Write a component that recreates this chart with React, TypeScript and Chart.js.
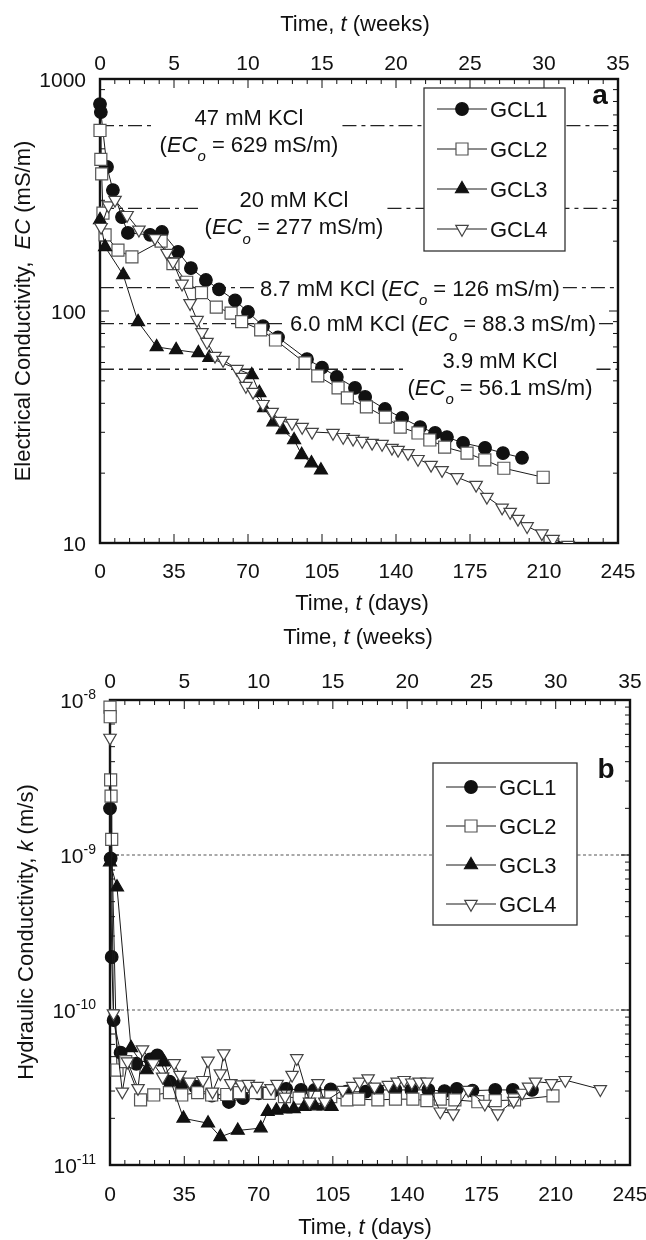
import React, { useEffect, useRef } from 'react';
import { Chart, registerables } from 'chart.js';

Chart.register(...registerables);

const FAMILY = '"Liberation Sans", Arial, Helvetica, sans-serif';
const TICK_FS = 21;
const TEXT_FS = 22;

// ---------------- data : panel a (EC vs days) ----------------
const ecDays1 = [0, 0.4, 3.3, 6.1, 10.4, 13.2, 23.7, 29.3, 36.9, 43, 50.1, 56.3, 63.9, 70, 77.1, 84.2, 97.9, 105, 112, 120.6, 125.4, 134.8, 142.9, 151.4, 158.5, 164.1, 171.7, 182.1, 190.6, 199.6];
const ecGCL1 = [780, 720, 418, 332, 254, 217, 213, 219, 180, 153, 136, 124, 111, 99, 86, 77, 62, 57, 52, 46.6, 42.6, 37.8, 34.6, 31.6, 29.8, 28.6, 27.0, 25.7, 24.4, 23.3];

const ecDays2 = [0, 0.4, 0.8, 1.4, 2.4, 8.5, 15.1, 28.9, 34.5, 41, 48, 55, 62, 67, 76, 83, 97, 103, 112.6, 117, 126, 135, 142, 150.4, 156, 163, 173.6, 182, 191, 209.6];
const ecGCL2 = [600, 450, 390, 264, 213, 183, 171, 200, 160, 133, 120, 104, 98, 90, 83, 75, 59.7, 52.5, 46.6, 42.2, 38.6, 34.9, 31.6, 29.8, 27.8, 25.9, 24.4, 22.8, 21.0, 19.2];

const ecDays3 = [0, 2.4, 11, 18, 26.8, 36, 46.5, 51.7, 71.8, 75.4, 77.6, 82, 86.4, 91.8, 95.4, 100, 104.5];
const ecGCL3 = [247, 189, 143, 89.8, 70, 68, 66, 63, 53, 44.4, 38.2, 33.2, 30.7, 27.8, 24, 22.1, 20.6];

const ecDays4 = [0.5, 4, 7.1, 12.8, 18.4, 26, 31.7, 34.5, 38.8, 42.6, 45.9, 48.2, 50.6, 54.4, 58.2, 64.8, 67.2, 69, 72.4, 77.1, 81.4, 85.1, 90.8, 95.6, 100.3, 110.2, 115, 119.7, 124, 128.7, 133.4, 138.1, 141, 145.7, 150.4, 156.6, 161.8, 168.9, 177.9, 183, 190.2, 194, 197.7, 202, 209, 214.3, 221.4];
const ecGCL4 = [230, 285, 301, 259, 224, 206, 178, 163, 131, 108, 91.4, 81, 73.5, 64, 61.5, 56.2, 52, 47.5, 44.8, 39.7, 36.7, 33.6, 32.9, 31.6, 30.1, 29.8, 28.6, 28.1, 27.5, 27, 26.7, 25.7, 25.2, 24.4, 23, 21.7, 20.6, 19.2, 17.8, 15.8, 14.2, 13.6, 12.7, 11.8, 11.0, 10.4, 9.8];

// ---------------- data : panel b (k vs days) ----------------
const kDays1 = [0, 0.3, 0.8, 1.7, 5, 12.4, 19, 22.3, 28, 33.8, 40, 48, 56, 62.7, 70, 76.7, 83, 90, 96.5, 104, 111.4, 120.5, 126, 134.5, 142, 150, 157.6, 163.4, 170.8, 181.5, 189.8, 198.8];
const kGCL1 = [2.0e-9, 9.5e-10, 2.2e-10, 8.6e-11, 5.3e-11, 4.5e-11, 4.8e-11, 5.1e-11, 3.45e-11, 3.3e-11, 3.2e-11, 2.8e-11, 2.55e-11, 2.7e-11, 2.9e-11, 3.0e-11, 3.1e-11, 3.05e-11, 3.05e-11, 3.07e-11, 2.97e-11, 2.97e-11, 3.05e-11, 3.05e-11, 3.05e-11, 3.05e-11, 3.0e-11, 3.1e-11, 3.02e-11, 3.05e-11, 3.05e-11, 3.05e-11];

const kDays2 = [0, 0.1, 0.3, 0.5, 0.8, 3.3, 7.4, 14.4, 20.6, 28, 33.8, 41.3, 47.9, 55, 61, 68.5, 75, 82.2, 89.1, 96.5, 104, 111.7, 117.2, 126.2, 134.5, 142.7, 149.3, 155.6, 162.5, 173.3, 181.5, 190.6, 208.7];
const kGCL2 = [9.0e-9, 7.8e-9, 3.05e-9, 2.4e-9, 1.26e-9, 4.1e-11, 4.65e-11, 2.63e-11, 2.83e-11, 2.93e-11, 2.83e-11, 2.93e-11, 2.83e-11, 2.85e-11, 2.93e-11, 2.93e-11, 2.9e-11, 2.76e-11, 2.7e-11, 2.73e-11, 2.76e-11, 2.63e-11, 2.66e-11, 2.63e-11, 2.66e-11, 2.66e-11, 2.6e-11, 2.66e-11, 2.63e-11, 2.56e-11, 2.6e-11, 2.63e-11, 2.79e-11];

const kDays3 = [0, 3.3, 9.9, 17.3, 25.6, 34.6, 46.2, 52, 60.2, 71, 74.3, 78.4, 82.5, 86.6, 91.6, 96.5, 100.7, 104.4];
const kGCL3 = [9.0e-10, 6.2e-10, 5.7e-11, 4.1e-11, 4.6e-11, 2.0e-11, 1.86e-11, 1.52e-11, 1.67e-11, 1.73e-11, 2.21e-11, 2.25e-11, 2.29e-11, 2.3e-11, 2.38e-11, 2.4e-11, 2.4e-11, 2.38e-11];

const kDays4 = [0, 1.65, 5.8, 8.25, 13.2, 15.3, 20.3, 24.8, 30.2, 33, 37.5, 43.8, 46.2, 48.3, 52, 53.6, 56.9, 61.9, 65.2, 69.3, 75.9, 78.7, 82.5, 85.8, 88, 94, 98, 101.2, 109.7, 114.4, 117.6, 121.6, 124.6, 131.2, 135.3, 138.6, 142.2, 145.7, 149.3, 155.6, 161.7, 168.8, 176.6, 182.7, 190.2, 194.2, 197.2, 200.5, 208, 214.5, 231];
const kGCL4 = [5.7e-9, 9.5e-11, 2.97e-11, 4.65e-11, 3.13e-11, 5.57e-11, 4.53e-11, 3.71e-11, 4.53e-11, 3.81e-11, 3.45e-11, 3.53e-11, 4.71e-11, 2.97e-11, 3.9e-11, 5.25e-11, 3.37e-11, 3.31e-11, 3.33e-11, 3.23e-11, 3.13e-11, 3.33e-11, 2.76e-11, 3.81e-11, 4.88e-11, 2.56e-11, 3.37e-11, 2.56e-11, 3.05e-11, 3.23e-11, 3.45e-11, 3.62e-11, 3.2e-11, 3.28e-11, 3.45e-11, 3.53e-11, 3.4e-11, 3.45e-11, 3.45e-11, 2.21e-11, 2.15e-11, 3.05e-11, 2.48e-11, 2.15e-11, 2.59e-11, 2.92e-11, 3.2e-11, 3.45e-11, 3.37e-11, 3.53e-11, 3.08e-11];

// ---------------- ticks, labels, reference values ----------------
const seriesNames = ['GCL1', 'GCL2', 'GCL3', 'GCL4'];
const dayTicks = [0, 35, 70, 105, 140, 175, 210, 245];
const dayMinorStep = 7;
const weekTicks = [0, 5, 10, 15, 20, 25, 30, 35];
const weekMinorStep = 1;
const ecTicks = [10, 100, 1000];
const kTickExps = [-11, -10, -9, -8];
const ecRefValues = [629, 277, 126, 88.3, 56.1];
const ecRefConc = ['47', '20', '8.7', '6.0', '3.9'];
const ecRefText = ['629', '277', '126', '88.3', '56.1'];
const kRefLines = [1e-9, 1e-10];

// ---------------- styles ----------------
const STYLES = [
  { pointStyle: 'circle', radius: 6.3, rotation: 0, fill: '#111', stroke: '#111' },
  { pointStyle: 'rect', radius: 8.5, rotation: 0, fill: '#fff', stroke: '#555' },
  { pointStyle: 'triangle', radius: 7.5, rotation: 0, fill: '#111', stroke: '#111' },
  { pointStyle: 'triangle', radius: 7.2, rotation: 180, fill: '#fff', stroke: '#444' },
];

// layout of the reference-line labels in panel a (two-line or one-line)
const REF_LAYOUT = [
  { kind: 2, cx: 249 },
  { kind: 2, cx: 294 },
  { kind: 1, x0: 260 },
  { kind: 1, x0: 290 },
  { kind: 2, cx: 500, tailOnly: true },
];

type Part = { t: string; it?: boolean; sub?: boolean; sup?: boolean; bold?: boolean };

function partFont(p: Part, size: number) {
  const s = p.sub || p.sup ? Math.round(size * 0.68) : size;
  return `${p.it ? 'italic ' : ''}${p.bold ? 'bold ' : ''}${s}px ${FAMILY}`;
}
function measureRich(ctx: CanvasRenderingContext2D, parts: Part[], size: number) {
  let w = 0;
  for (const p of parts) {
    ctx.font = partFont(p, size);
    w += ctx.measureText(p.t).width;
  }
  return w;
}
function drawRich(ctx: CanvasRenderingContext2D, parts: Part[], x: number, baseline: number, size: number, align: 'left' | 'center' | 'right') {
  const w = measureRich(ctx, parts, size);
  let cx = align === 'center' ? x - w / 2 : align === 'right' ? x - w : x;
  const x0 = cx;
  ctx.textAlign = 'left';
  ctx.textBaseline = 'alphabetic';
  for (const p of parts) {
    ctx.font = partFont(p, size);
    const dy = p.sub ? size * 0.42 : p.sup ? -size * 0.42 : 0;
    ctx.fillText(p.t, cx, baseline + dy);
    cx += ctx.measureText(p.t).width;
  }
  return [x0, x0 + w];
}

function drawMarker(ctx: CanvasRenderingContext2D, i: number, x: number, y: number) {
  const s = STYLES[i];
  ctx.save();
  ctx.fillStyle = s.fill;
  ctx.strokeStyle = s.stroke;
  ctx.lineWidth = 1.2;
  ctx.beginPath();
  if (s.pointStyle === 'circle') {
    ctx.arc(x, y, s.radius, 0, Math.PI * 2);
  } else if (s.pointStyle === 'rect') {
    const h = s.radius * Math.SQRT1_2;
    ctx.rect(x - h, y - h, 2 * h, 2 * h);
  } else {
    const r = s.radius;
    const sg = s.rotation === 180 ? -1 : 1;
    ctx.moveTo(x, y - sg * r);
    ctx.lineTo(x + 0.866 * r, y + sg * 0.5 * r);
    ctx.lineTo(x - 0.866 * r, y + sg * 0.5 * r);
    ctx.closePath();
  }
  ctx.fill();
  ctx.stroke();
  ctx.restore();
}

function drawLegend(ctx: CanvasRenderingContext2D, bx: number, by: number, bw: number, bh: number, row0: number, rowStep: number) {
  ctx.save();
  ctx.fillStyle = '#fff';
  ctx.fillRect(bx, by, bw, bh);
  ctx.strokeStyle = '#333';
  ctx.lineWidth = 1.3;
  ctx.strokeRect(bx, by, bw, bh);
  seriesNames.forEach((name, i) => {
    const ry = row0 + rowStep * i;
    ctx.strokeStyle = '#1a1a1a';
    ctx.lineWidth = 1;
    ctx.beginPath();
    ctx.moveTo(bx + 13, ry);
    ctx.lineTo(bx + 63, ry);
    ctx.stroke();
    drawMarker(ctx, i, bx + 38, ry);
    ctx.fillStyle = '#111';
    drawRich(ctx, [{ t: name }], bx + 66, ry + 8, TEXT_FS, 'left');
  });
  ctx.restore();
}

function drawTicksAndFrame(chart: any, yMajor: number[], yMinor: number[]) {
  const { ctx, chartArea: ca, scales } = chart;
  const xS = scales.x, x2S = scales.x2, yS = scales.y;
  ctx.save();
  ctx.strokeStyle = '#111';
  ctx.lineWidth = 1;
  const seg = (a: number, b: number, c: number, d: number) => {
    ctx.beginPath();
    ctx.moveTo(a, b);
    ctx.lineTo(c, d);
    ctx.stroke();
  };
  for (let d = 0; d <= xS.max; d += dayMinorStep) {
    const px = xS.getPixelForValue(d);
    const L = dayTicks.includes(d) ? 9 : 5;
    seg(px, ca.bottom, px, ca.bottom - L);
  }
  for (let w = 0; w <= x2S.max; w += weekMinorStep) {
    const px = x2S.getPixelForValue(w);
    const L = weekTicks.includes(w) ? 9 : 5;
    seg(px, ca.top, px, ca.top + L);
  }
  yMajor.forEach((v) => {
    const py = yS.getPixelForValue(v);
    seg(ca.left, py, ca.left + 9, py);
    seg(ca.right, py, ca.right - 9, py);
  });
  yMinor.forEach((v) => {
    const py = yS.getPixelForValue(v);
    seg(ca.left, py, ca.left + 5, py);
    seg(ca.right, py, ca.right - 5, py);
  });
  ctx.lineWidth = 2.4;
  ctx.strokeRect(ca.left, ca.top, ca.right - ca.left, ca.bottom - ca.top);
  ctx.restore();
}

function drawXLabels(chart: any, topBase: number, botBase: number, topTitleX: number, topTitleBase: number, botTitleX: number, botTitleBase: number) {
  const { ctx, scales } = chart;
  ctx.save();
  ctx.fillStyle = '#111';
  dayTicks.forEach((d) => drawRich(ctx, [{ t: String(d) }], scales.x.getPixelForValue(d), botBase, TICK_FS, 'center'));
  weekTicks.forEach((w) => drawRich(ctx, [{ t: String(w) }], scales.x2.getPixelForValue(w), topBase, TICK_FS, 'center'));
  drawRich(ctx, [{ t: 'Time, ' }, { t: 't', it: true }, { t: ' (weeks)' }], topTitleX, topTitleBase, TEXT_FS, 'center');
  drawRich(ctx, [{ t: 'Time, ' }, { t: 't', it: true }, { t: ' (days)' }], botTitleX, botTitleBase, TEXT_FS, 'center');
  ctx.restore();
}

function drawYTitle(ctx: CanvasRenderingContext2D, parts: Part[], x: number, cy: number) {
  ctx.save();
  ctx.translate(x, cy);
  ctx.rotate(-Math.PI / 2);
  ctx.fillStyle = '#111';
  drawRich(ctx, parts, 0, 0, TEXT_FS, 'center');
  ctx.restore();
}

function logMinors(lo: number, hi: number) {
  const out: number[] = [];
  for (let e = Math.round(Math.log10(lo)); e < Math.round(Math.log10(hi)); e++) {
    for (let m = 2; m <= 9; m++) out.push(m * Math.pow(10, e));
  }
  return out;
}

function makeDatasets(xs: number[][], ys: number[][]) {
  return xs.map((xArr, i) => ({
    label: seriesNames[i],
    data: xArr.map((d, j) => ({ x: d, y: ys[i][j] })),
    borderColor: '#1a1a1a',
    borderWidth: 1,
    pointStyle: STYLES[i].pointStyle,
    pointRadius: STYLES[i].radius,
    pointRotation: STYLES[i].rotation,
    pointBackgroundColor: STYLES[i].fill,
    pointBorderColor: STYLES[i].stroke,
    pointBorderWidth: 1.2,
    showLine: true,
    fill: false,
    tension: 0,
    order: 4 - i,
    clip: { left: 14, top: 14, right: 14, bottom: 0 },
  }));
}

const ecConcParts = (i: number): Part[] => [{ t: `${ecRefConc[i]} mM KCl` }];
const ecValParts = (i: number): Part[] => [
  { t: '(' },
  { t: 'EC', it: true },
  { t: 'o', it: true, sub: true },
  { t: ` = ${ecRefText[i]} mS/m)` },
];

const panelAPlugin = {
  id: 'panelA',
  beforeDatasetsDraw(chart: any) {
    const { ctx, chartArea: ca, scales } = chart;
    ctx.save();
    ecRefValues.forEach((v, i) => {
      const py = scales.y.getPixelForValue(v);
      const lay = REF_LAYOUT[i];
      ctx.fillStyle = '#111';
      let g0: number, g1: number;
      if (lay.kind === 2) {
        const a = drawRich(ctx, ecConcParts(i), lay.cx as number, py - 1, TEXT_FS, 'center');
        const b = drawRich(ctx, ecValParts(i), lay.cx as number, py + 26, TEXT_FS, 'center');
        g0 = Math.min(a[0], b[0]) - 4;
        g1 = Math.max(a[1], b[1]) + 4;
      } else {
        const parts = [...ecConcParts(i), { t: ' ' }, ...ecValParts(i)];
        const a = drawRich(ctx, parts, lay.x0 as number, py + 7.9, TEXT_FS, 'left');
        g0 = a[0] - 3;
        g1 = a[1] + 3;
      }
      ctx.strokeStyle = '#222';
      ctx.lineWidth = 1.3;
      ctx.setLineDash([14, 5, 4, 5]);
      ctx.beginPath();
      ctx.moveTo(ca.left, py);
      ctx.lineTo(g0, py);
      if (g1 < ca.right) {
        ctx.moveTo(g1, py);
        ctx.lineTo(ca.right, py);
      }
      ctx.stroke();
      ctx.setLineDash([]);
    });
    ctx.restore();
    drawTicksAndFrame(chart, ecTicks, logMinors(10, 1000));
  },
  afterDatasetsDraw(chart: any) {
    const { ctx, chartArea: ca, scales } = chart;
    drawLegend(ctx, 424, 88, 141, 163, 109, 40);
    ctx.save();
    ctx.fillStyle = '#111';
    drawRich(ctx, [{ t: 'a', bold: true }], 600, 104, 28, 'center');
    ecTicks.forEach((v) => drawRich(ctx, [{ t: String(v) }], ca.left - 14, scales.y.getPixelForValue(v) + 7.5, TICK_FS, 'right'));
    ctx.restore();
    drawXLabels(chart, 69.5, 577.5, 355, 31, 362, 610);
    drawYTitle(ctx, [{ t: 'Electrical Conductivity,  ' }, { t: 'EC', it: true }, { t: ' (mS/m)' }], 30, 311);
  },
};

const panelBPlugin = {
  id: 'panelB',
  beforeDatasetsDraw(chart: any) {
    const { ctx, chartArea: ca, scales } = chart;
    ctx.save();
    ctx.strokeStyle = '#555';
    ctx.lineWidth = 1.2;
    ctx.setLineDash([3, 2.5]);
    kRefLines.forEach((v) => {
      const py = scales.y.getPixelForValue(v);
      ctx.beginPath();
      ctx.moveTo(ca.left, py);
      ctx.lineTo(ca.right, py);
      ctx.stroke();
    });
    ctx.setLineDash([]);
    ctx.restore();
    drawTicksAndFrame(chart, kTickExps.map((e) => Math.pow(10, e)), logMinors(1e-11, 1e-8));
  },
  afterDatasetsDraw(chart: any) {
    const { ctx, chartArea: ca, scales } = chart;
    drawLegend(ctx, 433, 143, 144, 162, 167, 39);
    ctx.save();
    ctx.fillStyle = '#111';
    drawRich(ctx, [{ t: 'b', bold: true }], 606, 158, 28, 'center');
    kTickExps.forEach((e) =>
      drawRich(ctx, [{ t: '10' }, { t: String(e), sup: true }], ca.left - 14, scales.y.getPixelForValue(Math.pow(10, e)) + 7.5, TICK_FS, 'right')
    );
    ctx.restore();
    drawXLabels(chart, 67.5, 581, 358, 24, 365, 614);
    drawYTitle(ctx, [{ t: 'Hydraulic Conductivity, ' }, { t: 'k', it: true }, { t: ' (m/s)' }], 33, 312);
  },
};

function baseOptions(padding: any, yMin: number, yMax: number) {
  return {
    responsive: false,
    animation: false,
    events: [],
    layout: { padding },
    plugins: { legend: { display: false }, tooltip: { enabled: false } },
    scales: {
      x: { type: 'linear', position: 'bottom', min: 0, max: 245, display: false },
      x2: { type: 'linear', position: 'top', min: 0, max: 35, display: false },
      y: { type: 'logarithmic', position: 'left', min: yMin, max: yMax, display: false },
    },
  };
}

export default function App() {
  const refA = useRef<HTMLCanvasElement>(null);
  const refB = useRef<HTMLCanvasElement>(null);
  useEffect(() => {
    const chartA = new Chart(refA.current as HTMLCanvasElement, {
      type: 'line',
      data: { datasets: makeDatasets([ecDays1, ecDays2, ecDays3, ecDays4], [ecGCL1, ecGCL2, ecGCL3, ecGCL4]) as any },
      options: baseOptions({ left: 100, right: 28, top: 79, bottom: 77 }, 10, 1000) as any,
      plugins: [panelAPlugin as any],
    });
    const chartB = new Chart(refB.current as HTMLCanvasElement, {
      type: 'line',
      data: { datasets: makeDatasets([kDays1, kDays2, kDays3, kDays4], [kGCL1, kGCL2, kGCL3, kGCL4]) as any },
      options: baseOptions({ left: 110, right: 16, top: 80, bottom: 75 }, 1e-11, 1e-8) as any,
      plugins: [panelBPlugin as any],
    });
    return () => {
      chartA.destroy();
      chartB.destroy();
    };
  }, []);
  return (
    <div style={{ position: 'absolute', left: 0, top: 0, width: 646, height: 1240, background: '#fff' }}>
      <canvas ref={refA} width={646} height={620} style={{ display: 'block', width: 646, height: 620 }} />
      <canvas ref={refB} width={646} height={620} style={{ display: 'block', width: 646, height: 620 }} />
    </div>
  );
}
